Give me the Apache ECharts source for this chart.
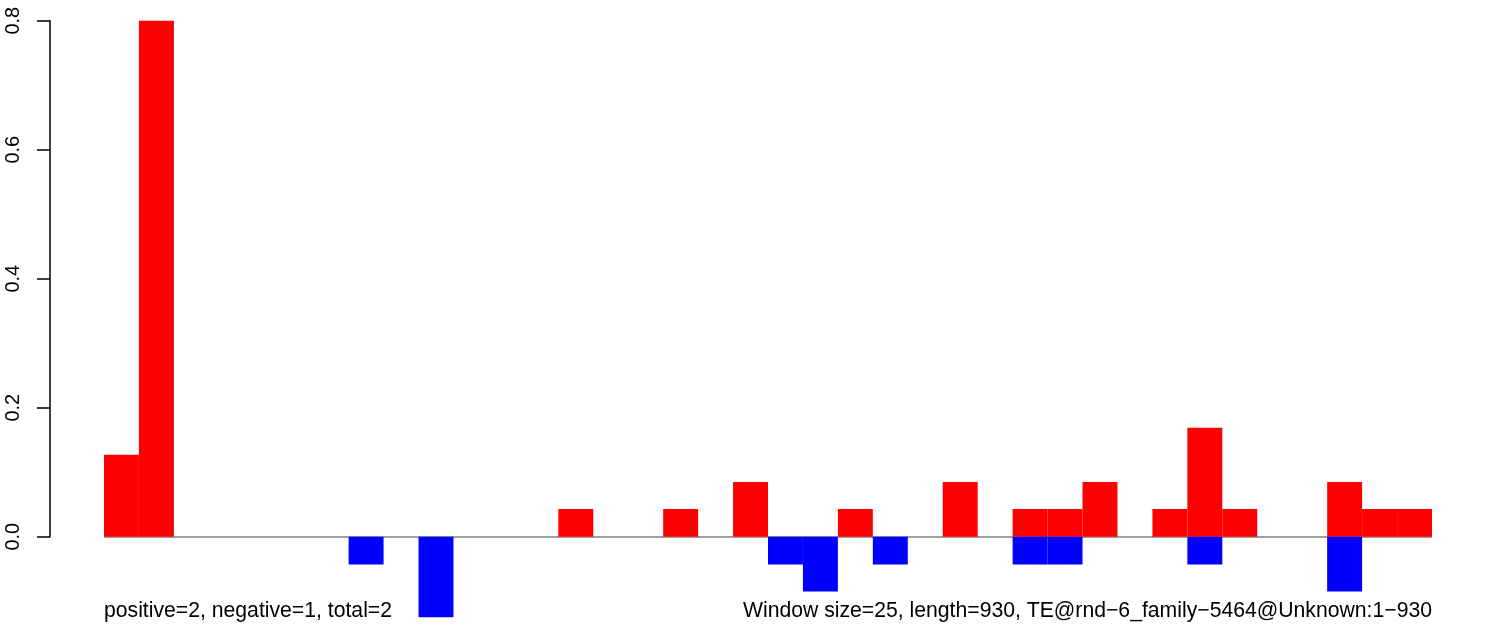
<!DOCTYPE html>
<html>
<head>
<meta charset="utf-8">
<script src="https://cdn.jsdelivr.net/npm/echarts@6/dist/echarts.min.js"></script>
<style>
html,body{margin:0;padding:0;background:#fff;}
#chart{width:1490px;height:630px;}
</style>
</head>
<body>
<div id="chart"></div>
<script>
// Window indices (38 windows of size 25 over length 930)
const windows = ["1","2","3","4","5","6","7","8","9","10","11","12","13","14","15","16","17","18","19","20","21","22","23","24","25","26","27","28","29","30","31","32","33","34","35","36","37","38"];
// Positive (red) values per window
const positiveValues = [0.127,0.8,0,0,0,0,0,0,0,0,0,0,0,0.043,0,0,0.043,0,0.085,0,0,0.043,0,0,0.085,0,0.043,0.043,0.085,0,0.043,0.169,0.043,0,0,0.085,0.043,0.043];
// Negative (blue) values per window
const negativeValues = [0,0,0,0,0,0,0,-0.043,0,-0.127,0,0,0,0,0,0,0,0,0,-0.043,-0.085,0,-0.043,0,0,0,-0.043,-0.043,0,0,0,-0.043,0,0,0,-0.085,0,0];
// Y axis tick labels
const yTicks = [0, 0.2, 0.4, 0.6, 0.8];
const leftNote = "positive=2, negative=1, total=2";
const rightNote = "Window size=25, length=930, TE@rnd\u22126_family\u22125464@Unknown:1\u2212930";

const FONT = "Liberation Sans, Arial, Helvetica, sans-serif";
const chart = echarts.init(document.getElementById('chart'), null, {renderer:'canvas'});
const pxPerUnit = 645;
const zeroY = 536.7;
const yMin = -0.125, yMax = 0.8;

chart.setOption({
  animation: false,
  backgroundColor: '#ffffff',
  title: [
    {text: leftNote, left: 104, top: 601, padding: 0,
     textStyle: {fontFamily: FONT, fontSize: 21.2, fontWeight: 'normal', color: '#000'}},
    {text: rightNote, right: 58, top: 601, padding: 0,
     textStyle: {fontFamily: FONT, fontSize: 21.2, fontWeight: 'normal', color: '#000'}}
  ],
  grid: [
    {left: 104, right: 58, top: zeroY - yMax*pxPerUnit, height: (yMax - yMin)*pxPerUnit, containLabel: false},
    {left: 50, width: 10, top: zeroY - yMax*pxPerUnit, height: yMax*pxPerUnit, containLabel: false}
  ],
  xAxis: [
    {type: 'category', data: windows, gridIndex: 0, show: false},
    {type: 'value', gridIndex: 1, show: false}
  ],
  yAxis: [
    {type: 'value', gridIndex: 0, min: yMin, max: yMax, show: false},
    {type: 'value', gridIndex: 1, min: yTicks[0], max: yTicks[yTicks.length-1], interval: 0.2,
     position: 'left',
     axisLine: {show: true, lineStyle: {color: '#000', width: 1.5}},
     axisTick: {show: true, inside: false, length: 13, lineStyle: {color: '#000', width: 1.5}},
     splitLine: {show: false},
     axisLabel: {show: true, rotate: 90, margin: 27, color: '#000', fontSize: 20, fontFamily: FONT,
       formatter: v => v.toFixed(1)}
    }
  ],
  series: [
    {type: 'bar', name: 'positive', xAxisIndex: 0, yAxisIndex: 0, data: positiveValues,
     barCategoryGap: '0%', barGap: '-100%', itemStyle: {color: '#ff0000'}, z: 3,
     markLine: {silent: true, symbol: 'none', label: {show: false},
       lineStyle: {color: '#a0a0a0', width: 2, type: 'solid'}, z: 1,
       data: [{yAxis: 0}]}},
    {type: 'bar', name: 'negative', xAxisIndex: 0, yAxisIndex: 0, data: negativeValues,
     barCategoryGap: '0%', barGap: '-100%', itemStyle: {color: '#0000ff'}, z: 3}
  ]
});
</script>
</body>
</html>
